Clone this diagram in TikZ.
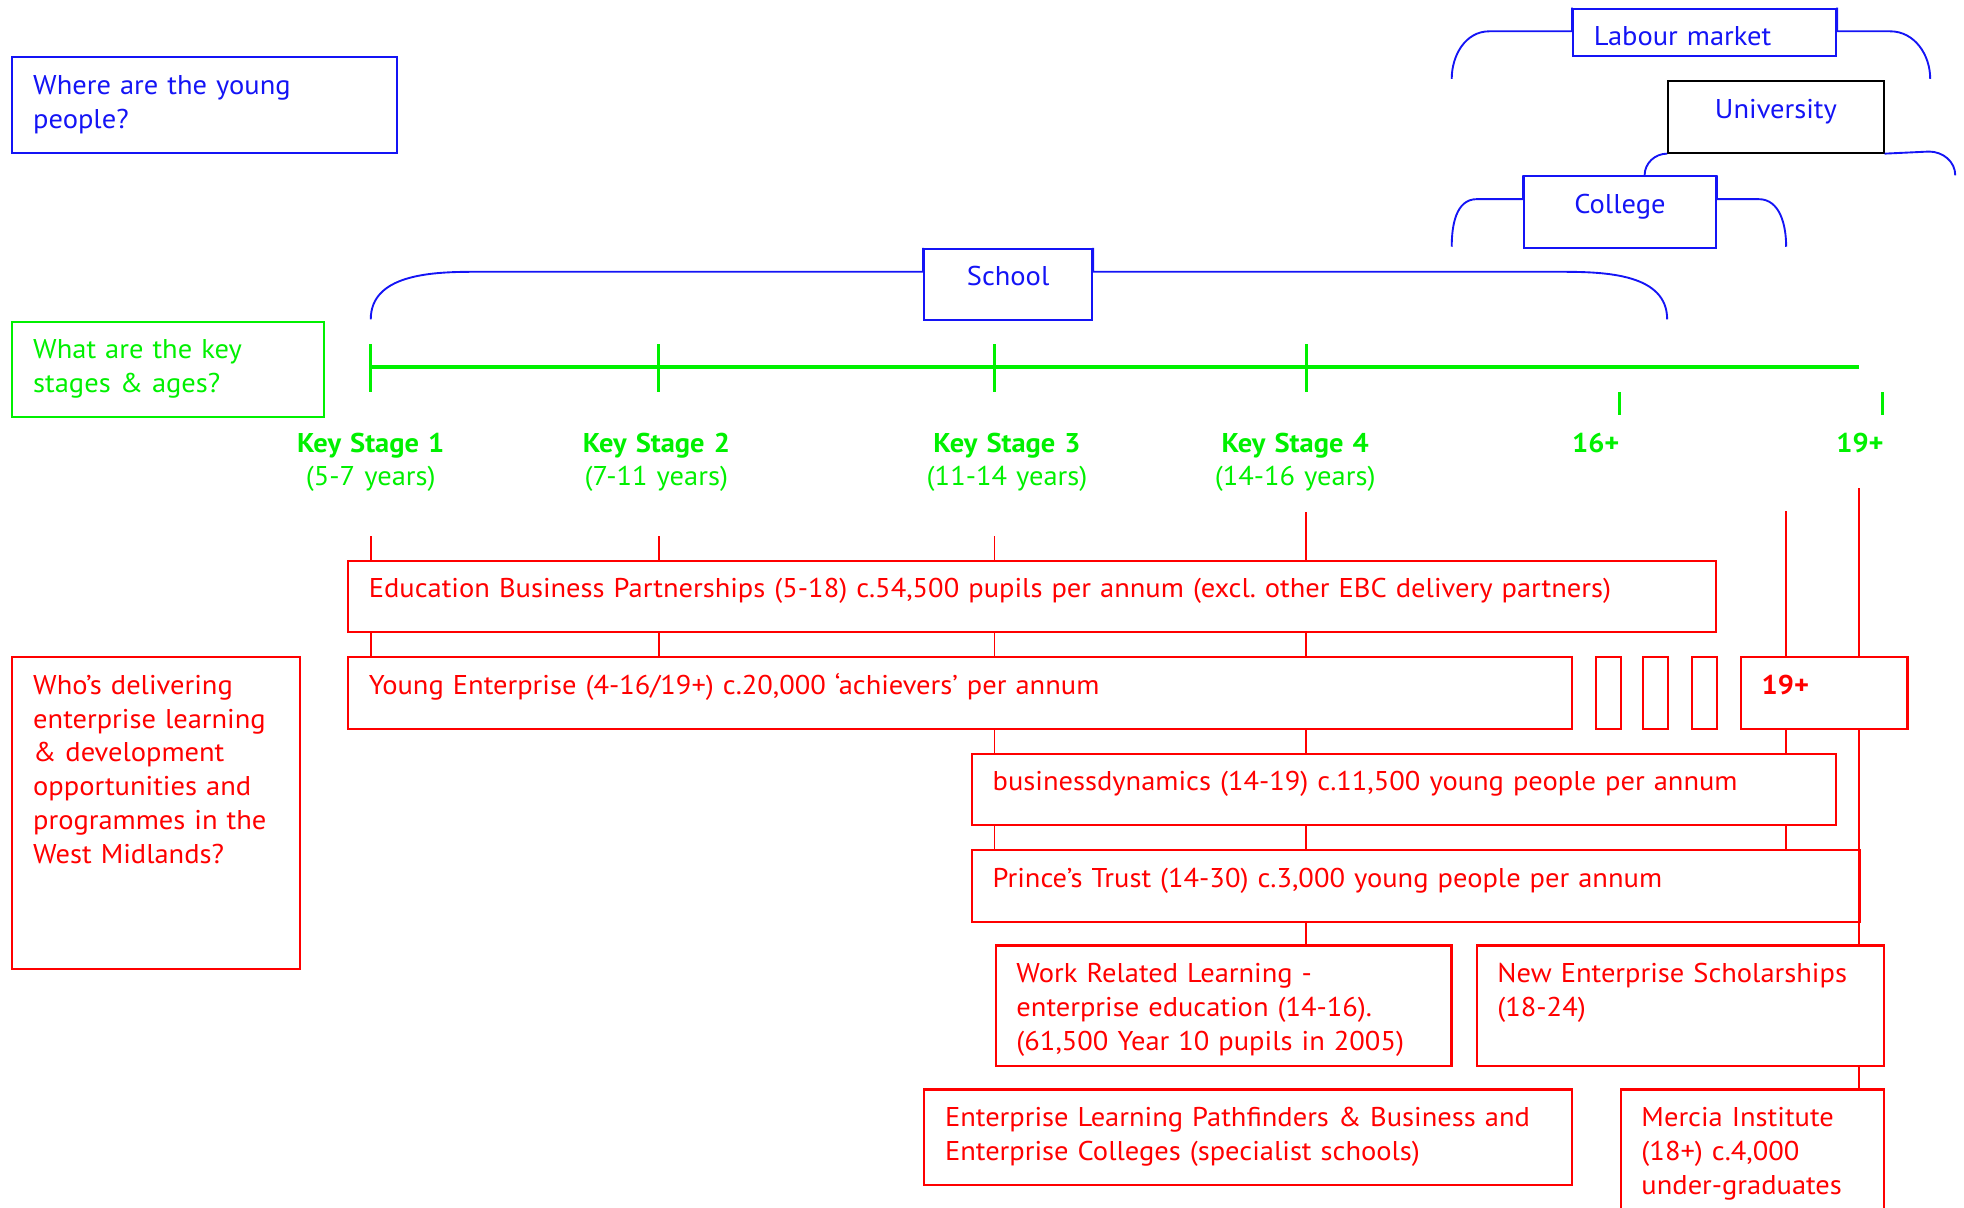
\documentclass[tikz,border=0pt]{standalone}
\usepackage{fontspec}
\setmainfont{PT Sans}[FakeStretch=1.05]
\usetikzlibrary{positioning}

\definecolor{wmblue}{RGB}{20,20,245}
\definecolor{wmgreen}{RGB}{0,240,0}
\definecolor{wmred}{RGB}{255,0,0}
\frenchspacing

\begin{document}
\begin{tikzpicture}
	[x=0.6pt,y=-0.6pt,
	every node/.style={font=\fontsize{13}{16.2}\selectfont},
	boxed/.style={draw,line width=1pt,anchor=north west,inner xsep=10pt,inner ysep=0pt,text height=17.7pt,align=left},
	bluebox/.style={boxed,wmblue,text=wmblue},
	greenbox/.style={boxed,wmgreen,text=wmgreen},
	redbox/.style={boxed,wmred,text=wmred},
	stage/.style={text=wmgreen,text width=90pt,align=center,inner sep=0pt,anchor=base},
	bracket/.style={wmblue,line width=0.9pt},
	timeline/.style={wmgreen,line width=2pt},
	tick/.style={wmgreen,line width=1.4pt},
	link/.style={wmred,line width=0.9pt}]

	\useasboundingbox (0,0) rectangle (1568,964);
	\clip (0,0) rectangle (1568,964);
	%\draw[help lines,step=100] (0,0) grid (1568,964);

	% questions
	\node[bluebox,text width=164.2pt,text depth=27.9pt] (where) at (9,45) {Where are the young\\people?};
	\node[greenbox,text width=129.4pt,text depth=27.9pt] (stages) at (9,256) {What are the key\\stages \& ages?};
	\node[redbox,text width=118pt,text depth=131.7pt] (who) at (9,524) {Who’s delivering\\enterprise learning\\\& development\\opportunities and\\programmes in the\\West Midlands?};

	% places
	\node[bluebox,text width=106pt,text depth=5.1pt] (labour) at (1255,6) {Labour market};
	\node[bluebox,draw=black,text width=83.2pt,text depth=16.5pt,align=center] (univ) at (1331,64) {University};
	\node[bluebox,text width=71.8pt,text depth=16.5pt,align=center] (college) at (1216,140) {College};
	\node[bluebox,text width=60.4pt,text depth=16.5pt,align=center] (school) at (737,198) {School};

	\coordinate (labL) at (1159,63);
	\coordinate (labR) at (1541,63);
	\coordinate (uniL) at (1313,140);
	\coordinate (uniR) at (1561,140);
	\coordinate (colL) at (1159,197);
	\coordinate (colR) at (1426,197);
	\coordinate (schL) at (296,255);
	\coordinate (schR) at (1331,255);

	\draw[bracket] (labL) to[out=90,in=180] ++(30,-38) -| (labour.north west);
	\draw[bracket] (labR) to[out=90,in=0] ++(-32,-38) -| (labour.north east);
	\draw[bracket] (uniL) to[out=90,in=180] (univ.south west);
	\draw[bracket] (uniR) to[out=90,in=0] ++(-21,-19) -- (univ.south east);
	\draw[bracket] (colL) to[out=90,in=180] ++(20,-38) -| (college.north west);
	\draw[bracket] (colR) to[out=90,in=0] ++(-22,-38) -| (college.north east);
	\draw[bracket] (schL) to[out=90,in=180] ++(82,-38) -| (school.north west);
	\draw[bracket] (schR) to[out=90,in=0] ++(-84,-38) -| (school.north east);

	% key stages
	\coordinate (t1) at (296,293);
	\coordinate (t2) at (526,293);
	\coordinate (t3) at (794,293);
	\coordinate (t4) at (1043,293);
	\coordinate (tend) at (1484,293);
	\coordinate (t16) at (1293,313);
	\coordinate (t19) at (1503,313);

	\draw[timeline] (t1) -- (tend);
	\foreach \t in {t1,t2,t3,t4}
		\draw[tick] (\t) ++(0,-18) -- ++(0,38);
	\draw[tick] (t16) -- ++(0,18);
	\draw[tick] (t19) -- ++(0,18);

	\node[stage] (ks1) at (296,361) {\textbf{Key Stage 1}\\(5-7 years)};
	\node[stage] (ks2) at (524,361) {\textbf{Key Stage 2}\\(7-11 years)};
	\node[stage] (ks3) at (804,361) {\textbf{Key Stage 3}\\(11-14 years)};
	\node[stage] (ks4) at (1034,361) {\textbf{Key Stage 4}\\(14-16 years)};
	\node[stage] (a16) at (1274,361) {\textbf{16+}};
	\node[stage] (a19) at (1485,361) {\textbf{19+}};

	% programmes
	\node[redbox,text width=635.2pt,text depth=16.5pt] (ebp) at (277,447) {Education Business Partnerships (5-18) c.54,500 pupils per annum (excl. other EBC delivery partners)};
	\node[redbox,text width=566.2pt,text depth=16.5pt] (ye) at (277,524) {Young Enterprise (4-16/19+) c.20,000 ‘achievers’ per annum};
	\foreach \x [count=\i] in {1273,1311,1350}
		\node[redbox,inner xsep=0pt,minimum width=12pt,text depth=16.5pt] (gap\i) at (\x,524) {};
	\node[redbox,text width=59.8pt,text depth=16.5pt] (late) at (1389,524) {\textbf{19+}};
	\node[redbox,text width=394pt,text depth=16.5pt] (bd) at (775,601) {businessdynamics (14-19) c.11,500 young people per annum};
	\node[redbox,text width=405.4pt,text depth=16.5pt] (pt) at (775,678) {Prince’s Trust (14-30) c.3,000 young people per annum};
	\node[redbox,text width=198.4pt,text depth=39.9pt] (wrl) at (794,754) {Work Related Learning -\\enterprise education (14-16).\\(61,500 Year 10 pupils in 2005)};
	\node[redbox,text width=175pt,text depth=39.9pt] (nes) at (1178,754) {New Enterprise Scholarships\\(18-24)};
	\node[redbox,text width=290.2pt,text depth=27.9pt] (elp) at (737,869) {Enterprise Learning Pathfinders \& Business and\\Enterprise Colleges (specialist schools)};
	\node[redbox,text width=106pt,text depth=60.9pt] (mercia) at (1293,869) {Mercia Institute\\(18+) c.4,000\\under-graduates};

	\coordinate (s1) at (296,428);
	\coordinate (s2) at (526,428);
	\coordinate (s3) at (794,428);
	\coordinate (s4) at (1043,409);
	\coordinate (s5) at (1426,408);
	\coordinate (s6) at (1484,390);

	\foreach \s in {s1,s2,s3,s4}
		\draw[link] (\s) -- (\s |- ebp.north);
	\foreach \s in {s1,s2,s3,s4}
		\draw[link] (\s |- ebp.south) -- (\s |- ye.north);
	\foreach \s in {s3,s4}
		\draw[link] (\s |- ye.south) -- (\s |- bd.north);
	\foreach \s in {s3,s4,s5}
		\draw[link] (\s |- bd.south) -- (\s |- pt.north);
	\draw[link] (s5) -- (s5 |- late.north);
	\draw[link] (s5 |- late.south) -- (s5 |- bd.north);
	\draw[link] (s6) -- (s6 |- late.north);
	\draw[link] (s6 |- late.south) -- (s6 |- nes.north);
	\draw[link] (s4 |- pt.south) -- (s4 |- wrl.north);
	\draw[link] (s6 |- nes.south) -- (s6 |- mercia.north);

\end{tikzpicture}
\end{document}
